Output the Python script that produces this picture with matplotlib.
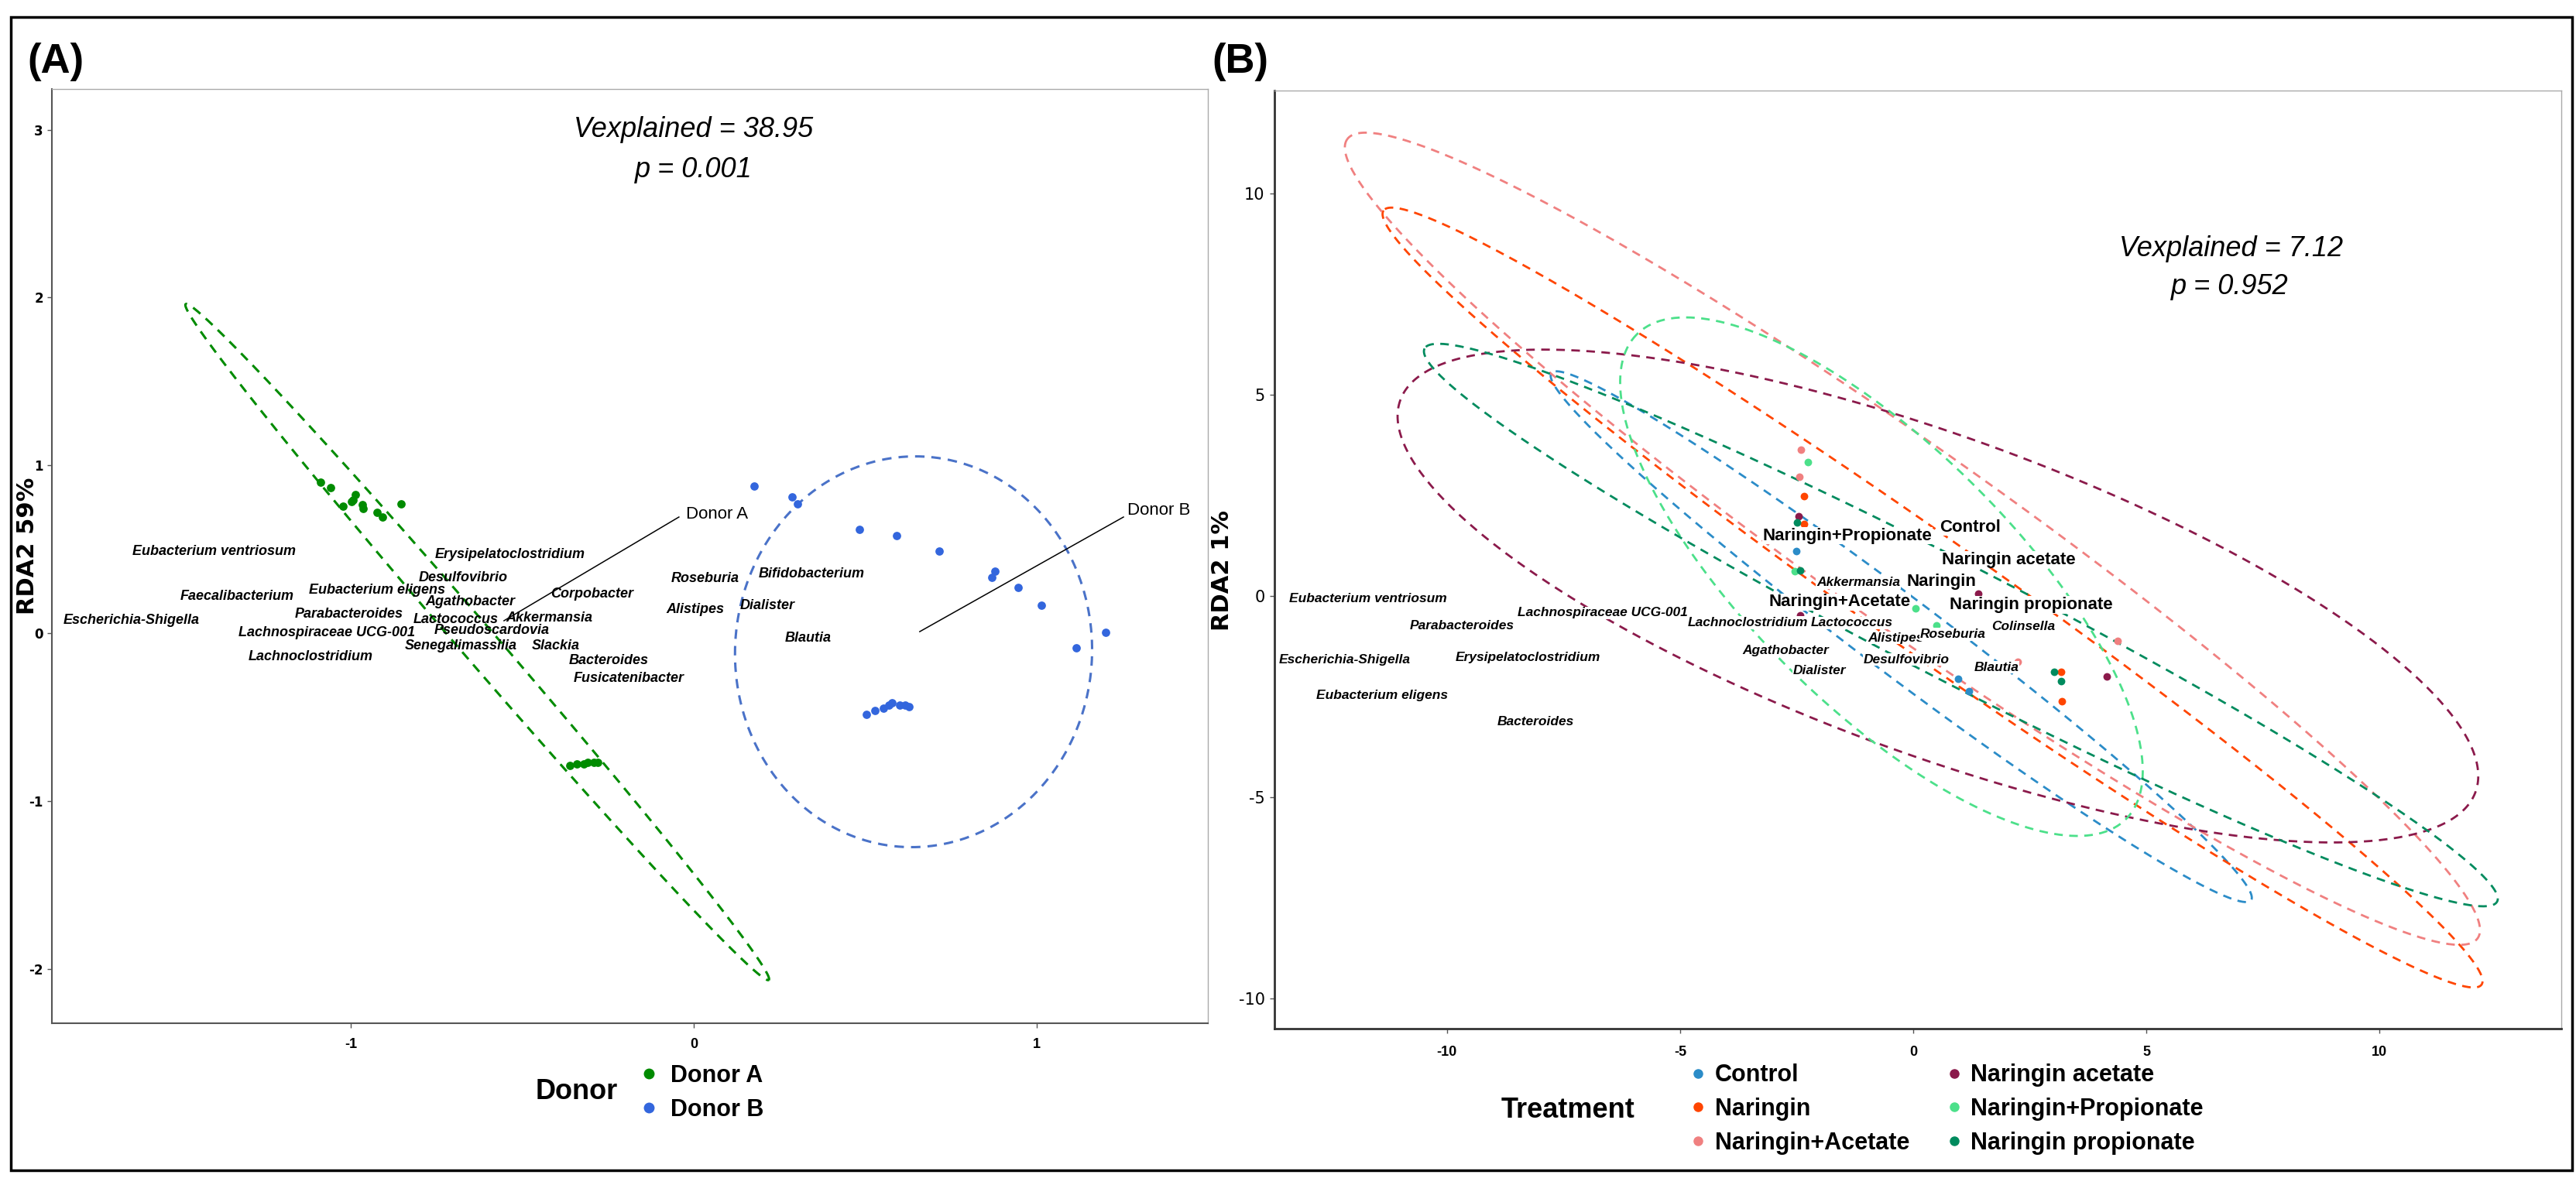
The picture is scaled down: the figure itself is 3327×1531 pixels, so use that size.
import numpy as np
import matplotlib
matplotlib.use("Agg")
import matplotlib.pyplot as plt
from matplotlib.lines import Line2D
from matplotlib.patches import Rectangle

SANS = ['Liberation Sans', 'DejaVu Sans']
NARROW = ['Liberation Sans Narrow', 'Liberation Sans', 'DejaVu Sans']
VERD = ['DejaVu Sans']
plt.rcParams['font.family'] = SANS

# ---------------- Panel A data ----------------
donorA_x = [-1.088, -1.059, -1.023, -0.998, -0.993, -0.986, -0.966, -0.964, -0.923, -0.907, -0.853,
            -0.36, -0.34, -0.32, -0.31, -0.29, -0.28]
donorA_y = [0.898, 0.866, 0.755, 0.782, 0.792, 0.824, 0.764, 0.741, 0.718, 0.694, 0.769,
            -0.79, -0.78, -0.78, -0.77, -0.77, -0.77]
donorB_x = [0.176, 0.287, 0.302, 0.483, 0.591, 0.716, 0.878, 0.870, 0.946, 1.014, 1.201, 1.115,
            0.503, 0.528, 0.553, 0.570, 0.578, 0.600, 0.616, 0.627]
donorB_y = [0.875, 0.810, 0.769, 0.620, 0.583, 0.490, 0.370, 0.330, 0.273, 0.167, 0.005, -0.088,
            -0.486, -0.460, -0.449, -0.430, -0.417, -0.430, -0.430, -0.440]

# ellipse summaries: centre, end of semi-major axis, minor/major ratio
ellA_center = {'Donor A': (-0.631, -0.053), 'Donor B': (0.641, -0.111)}
ellA_tip = {'Donor A': (0.219, -2.067), 'Donor B': (0.673, 1.052)}
ellA_ratio = {'Donor A': 0.040, 'Donor B': 0.913}

speciesA = ["Eubacterium ventriosum", "Erysipelatoclostridium", "Desulfovibrio", "Eubacterium eligens",
            "Faecalibacterium", "Agathobacter", "Corpobacter", "Roseburia", "Bifidobacterium",
            "Dialister", "Alistipes", "Escherichia-Shigella", "Parabacteroides", "Lactococcus",
            "Akkermansia", "Lachnospiraceae UCG-001", "Pseudoscardovia", "Blautia",
            "Senegalimassilia", "Slackia", "Lachnoclostridium", "Bacteroides", "Fusicatenibacter"]
speciesA_x = [-1.397, -0.535, -0.673, -0.923, -1.330, -0.652, -0.296, 0.034, 0.343,
              0.214, 0.005, -1.639, -1.005, -0.693, -0.420, -1.070, -0.589, 0.334,
              -0.679, -0.402, -1.117, -0.248, -0.190]
speciesA_y = [0.486, 0.468, 0.329, 0.255, 0.218, 0.185, 0.231, 0.324, 0.352,
              0.162, 0.139, 0.074, 0.111, 0.083, 0.088, 0.000, 0.014, -0.028,
              -0.074, -0.074, -0.139, -0.162, -0.269]

donor_seg_x0 = [-0.553, 0.659]
donor_seg_y0 = [0.074, 0.009]
donor_seg_x1 = [-0.043, 1.253]
donor_seg_y1 = [0.692, 0.692]
donor_lab = ["Donor A", "Donor B"]
donor_lab_x = [-0.023, 1.264]
donor_lab_y = [0.706, 0.729]

# ---------------- Panel B data ----------------
treat_names = ["Control", "Naringin", "Naringin+Acetate", "Naringin acetate",
               "Naringin+Propionate", "Naringin propionate"]
treat_colors = ["#2B8CC8", "#FF4500", "#F08080", "#8B1A4B", "#4CE08A", "#008B5E"]
pts_x = {
    "Control": [-2.51, 0.97, 1.20],
    "Naringin": [-2.34, -2.34, 3.17, 3.19],
    "Naringin+Acetate": [-2.41, -2.44, 4.38, 2.25],
    "Naringin acetate": [-2.46, -2.43, 1.40, 4.15],
    "Naringin+Propionate": [-2.26, -2.54, 0.05, 0.50],
    "Naringin propionate": [-2.49, -2.43, 3.03, 3.17],
}
pts_y = {
    "Control": [1.12, -2.06, -2.36],
    "Naringin": [2.49, 1.79, -1.88, -2.62],
    "Naringin+Acetate": [3.64, 2.97, -1.11, -1.64],
    "Naringin acetate": [1.99, -0.48, 0.06, -2.00],
    "Naringin+Propionate": [3.33, 0.62, -0.31, -0.73],
    "Naringin propionate": [1.83, 0.64, -1.88, -2.11],
}
ellB_center = {"Control": (-0.257, -1.01), "Naringin": (0.415, -0.038),
               "Naringin+Acetate": (-0.017, 1.423), "Naringin acetate": (0.53, 0.0),
               "Naringin+Propionate": (-0.681, 0.481), "Naringin propionate": (1.022, -0.721)}
ellB_tip = {"Control": (-7.76, 5.54), "Naringin": (-11.36, 9.58),
            "Naringin+Acetate": (-12.14, 11.35), "Naringin acetate": (-11.0, 4.87),
            "Naringin+Propionate": (-5.93, 6.50), "Naringin propionate": (-10.48, 6.15)}
ellB_ratio = {"Control": 0.088, "Naringin": 0.086, "Naringin+Acetate": 0.129,
              "Naringin acetate": 0.278, "Naringin+Propionate": 0.378, "Naringin propionate": 0.096}

centroid_lab = ["Naringin+Propionate", "Control", "Naringin acetate", "Naringin",
                "Naringin+Acetate", "Naringin propionate"]
centroid_x = [-1.41, 1.23, 2.04, 0.60, -1.58, 2.53]
centroid_y = [1.50, 1.71, 0.90, 0.35, -0.15, -0.22]

speciesB = ["Eubacterium ventriosum", "Parabacteroides", "Lachnospiraceae UCG-001", "Lachnoclostridium",
            "Lactococcus", "Akkermansia", "Colinsella", "Alistipes", "Roseburia",
            "Escherichia-Shigella", "Erysipelatoclostridium", "Agathobacter", "Desulfovibrio",
            "Blautia", "Dialister", "Eubacterium eligens", "Bacteroides"]
speciesB_x = [-11.7, -9.68, -6.66, -3.54, -1.32, -1.18, 2.37, -0.38, 0.85,
              -12.2, -8.27, -2.74, -0.15, 1.78, -2.01, -11.4, -8.1]
speciesB_y = [-0.06, -0.73, -0.42, -0.66, -0.67, 0.33, -0.75, -1.04, -0.95,
              -1.58, -1.52, -1.35, -1.58, -1.77, -1.85, -2.47, -3.12]

colA = "#008B00"
colB = "#3366DD"
colB_ell = "#4A72C8"

# ---------------- figure ----------------
W, H = 3327, 1531
fig = plt.figure(figsize=(W / 100, H / 100), dpi=100)


def px_box(l, t, r, b):
    return [l / W, 1 - b / H, (r - l) / W, (b - t) / H]


def draw_ellipse(ax, center, tip, ratio, color, lw=2.2, dash=(4, 3)):
    c = ax.transData.transform(center)
    t = ax.transData.transform(tip)
    a = t - c
    bvec = np.array([-a[1], a[0]]) * ratio
    th = np.linspace(0, 2 * np.pi, 400)
    pts = c + np.outer(np.cos(th), a) + np.outer(np.sin(th), bvec)
    d = ax.transData.inverted().transform(pts)
    ax.plot(d[:, 0], d[:, 1], color=color, lw=lw, ls=(0, dash), zorder=2)


def style_axes(ax, dark, lw_dark):
    for s in ['left', 'bottom']:
        ax.spines[s].set_color(dark)
        ax.spines[s].set_linewidth(lw_dark)
    for s in ['top', 'right']:
        ax.spines[s].set_color('#AAAAAA')
        ax.spines[s].set_linewidth(1.0)
    ax.tick_params(direction='out', length=4, width=1, color='#555555')


# ---- Panel A ----
axA = fig.add_axes(px_box(67, 115, 1560, 1322))
axA.set_xlim(-1.871, 1.499)
axA.set_ylim(-2.325, 3.243)
style_axes(axA, '#555555', 1.5)
axA.set_xticks([-1, 0, 1])
axA.set_yticks([-2, -1, 0, 1, 2, 3])
axA.set_xticklabels(['-1', '0', '1'], fontfamily=NARROW, fontweight='bold', fontsize=13)
axA.set_yticklabels(['-2', '-1', '0', '1', '2', '3'], fontfamily=VERD, fontweight='bold', fontsize=12)
axA.tick_params(axis='x', pad=10)
axA.tick_params(axis='y', pad=4)

for k, col in [('Donor A', colA), ('Donor B', colB_ell)]:
    draw_ellipse(axA, ellA_center[k], ellA_tip[k], ellA_ratio[k], col)
axA.scatter(donorA_x, donorA_y, s=60, color=colA, zorder=3, linewidths=0)
axA.scatter(donorB_x, donorB_y, s=60, color=colB, zorder=3, linewidths=0)

for x0, y0, x1, y1 in zip(donor_seg_x0, donor_seg_y0, donor_seg_x1, donor_seg_y1):
    axA.plot([x0, x1], [y0, y1], color='black', lw=1.1, zorder=4)
for lab, x, y in zip(donor_lab, donor_lab_x, donor_lab_y):
    axA.text(x, y, lab, ha='left', va='center', fontsize=16, color='black', zorder=5)
for lab, x, y in zip(speciesA, speciesA_x, speciesA_y):
    axA.text(x, y, lab, ha='center', va='center', fontsize=13, fontstyle='italic',
             fontweight='bold', color='black', zorder=5)

axA.text(0.0, 3.0, "Vexplained = 38.95", ha='center', va='center', fontsize=26,
         fontstyle='italic')
axA.text(0.0, 2.76, "p = 0.001", ha='center', va='center', fontsize=26,
         fontstyle='italic')

# ---- Panel B ----
axB = fig.add_axes(px_box(1646, 117, 3308, 1329))
axB.set_xlim(-13.70, 13.90)
axB.set_ylim(-10.75, 12.56)
style_axes(axB, '#333333', 2.0)
axB.set_xticks([-10, -5, 0, 5, 10])
axB.set_yticks([-10, -5, 0, 5, 10])
axB.set_xticklabels(['-10', '-5', '0', '5', '10'], fontfamily=NARROW, fontweight='bold', fontsize=13)
axB.set_yticklabels(['-10', '-5', '0', '5', '10'], fontfamily=VERD, fontsize=15)
axB.tick_params(axis='x', pad=12)
axB.tick_params(axis='y', pad=5)

for name, col in zip(treat_names, treat_colors):
    draw_ellipse(axB, ellB_center[name], ellB_tip[name], ellB_ratio[name], col, lw=2.0)
for name, col in zip(treat_names, treat_colors):
    axB.scatter(pts_x[name], pts_y[name], s=50, color=col, zorder=3, linewidths=0)

wbox = dict(facecolor='white', edgecolor='none', pad=0.5)
for lab, x, y in zip(speciesB, speciesB_x, speciesB_y):
    axB.text(x, y, lab, ha='center', va='center', fontsize=12.5, fontstyle='italic',
             fontweight='bold', color='black', zorder=5, bbox=wbox)
for lab, x, y in zip(centroid_lab, centroid_x, centroid_y):
    axB.text(x, y, lab, ha='center', va='center', fontsize=16, fontweight='bold',
             color='black', zorder=6, bbox=wbox)

axB.text(6.82, 8.63, "Vexplained = 7.12", ha='center', va='center', fontsize=26, fontstyle='italic')
axB.text(6.79, 7.69, "p = 0.952", ha='center', va='center', fontsize=26, fontstyle='italic')

# ---- axis titles, panel letters ----
fig.text(36 / W, 1 - 705 / H, "RDA2 59%", rotation=90, ha='center', va='center',
         fontsize=22, fontweight='bold', fontfamily=VERD)
fig.text(1578 / W, 1 - 737 / H, "RDA2 1%", rotation=90, ha='center', va='center',
         fontsize=22, fontweight='bold', fontfamily=VERD)
fig.text(35 / W, 1 - 80 / H, "(A)", ha='left', va='center', fontsize=38, fontweight='bold')
fig.text(1565 / W, 1 - 80 / H, "(B)", ha='left', va='center', fontsize=38, fontweight='bold')

# ---- legends ----
hA = [Line2D([], [], marker='o', ls='none', color=c, markersize=9, label=l)
      for c, l in [(colA, 'Donor A'), (colB, 'Donor B')]]
fig.legend(handles=hA, loc='center left', bbox_to_anchor=(826 / W, 1 - 1412 / H),
           frameon=False, prop=dict(weight='bold', size=22), handletextpad=0.5,
           labelspacing=0.45, borderpad=0, borderaxespad=0, handlelength=0.8)
fig.text(745 / W, 1 - 1410 / H, "Donor", ha='center', va='center', fontsize=26, fontweight='bold')

hB = [Line2D([], [], marker='o', ls='none', color=c, markersize=8, label=l)
      for c, l in zip(treat_colors, treat_names)]
fig.legend(handles=hB, loc='center left', bbox_to_anchor=(2181 / W, 1 - 1433 / H), ncol=2,
           frameon=False, prop=dict(weight='bold', size=22), handletextpad=0.3,
           labelspacing=0.45, borderpad=0, borderaxespad=0, handlelength=0.8,
           columnspacing=1.5)
fig.text(2025 / W, 1 - 1435 / H, "Treatment", ha='center', va='center', fontsize=26, fontweight='bold')

# ---- outer frame ----
fig.patches.append(Rectangle((14 / W, 1 - 1512 / H), 3308 / W, 1490 / H, transform=fig.transFigure,
                             fill=False, edgecolor='black', linewidth=2.5, zorder=10))

fig.savefig("out.png", dpi=100, facecolor='white')
